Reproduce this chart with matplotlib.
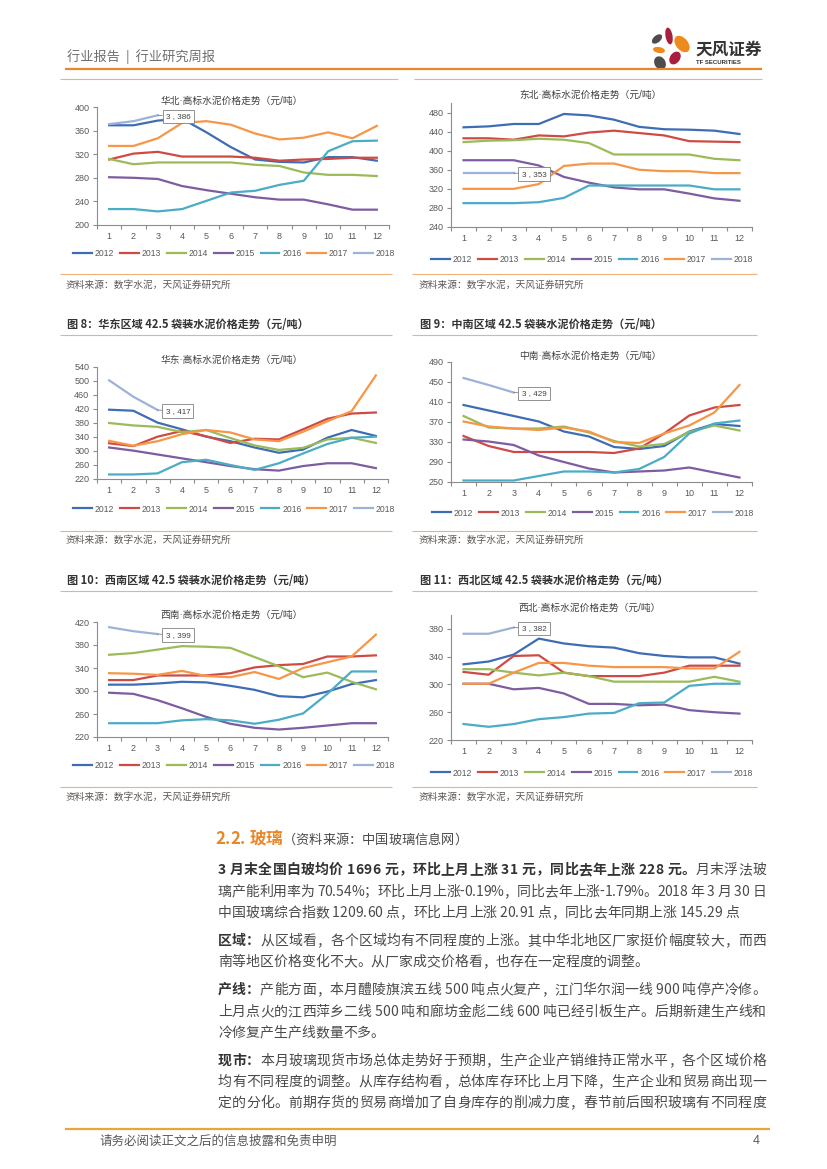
import numpy as np
import matplotlib
matplotlib.use('Agg')
import matplotlib.pyplot as plt
from matplotlib.patches import Ellipse
from matplotlib.font_manager import FontProperties, findfont, get_font

W, H = 827, 1169
CJK = 'Noto Sans CJK SC'
plt.rcParams['font.family'] = ['Liberation Sans', CJK]

months = list(range(1, 13))
years = ['2012', '2013', '2014', '2015', '2016', '2017', '2018']
colors = ['#3E6DB5', '#CE4B45', '#9BBB59', '#7E5CA0', '#4BACC6', '#F79646', '#9DB2D8']

# 高标水泥价格（元/吨），每个区域按年份 2012..2018
huabei = [
    [369, 369, 377, 380, 357, 332, 311, 307, 306, 315, 315, 309],
    [311, 321, 324, 316, 316, 316, 314, 309, 311, 312, 314, 314],
    [312, 303, 306, 306, 306, 306, 302, 300, 289, 285, 285, 283],
    [281, 280, 278, 266, 259, 253, 247, 243, 243, 235, 226, 226],
    [227, 227, 223, 227, 241, 255, 258, 268, 275, 325, 342, 343],
    [334, 334, 347, 373, 376, 370, 355, 345, 348, 357, 347, 368],
    [371, 376, 386],
]
dongbei = [
    [449, 451, 456, 456, 477, 474, 465, 450, 445, 444, 442, 435],
    [426, 426, 423, 432, 430, 438, 442, 437, 432, 420, 419, 418],
    [418, 421, 422, 425, 423, 416, 392, 392, 392, 392, 383, 380],
    [380, 380, 380, 369, 345, 333, 323, 319, 319, 310, 300, 295],
    [290, 290, 290, 292, 301, 327, 327, 327, 327, 327, 319, 319],
    [320, 320, 320, 330, 368, 373, 373, 360, 357, 357, 353, 353],
    [353, 353, 353],
]
huadong = [
    [418, 415, 381, 362, 341, 328, 310, 295, 304, 338, 360, 343],
    [322, 314, 341, 357, 342, 323, 335, 333, 362, 392, 407, 410],
    [380, 373, 369, 354, 360, 337, 316, 303, 309, 333, 338, 323],
    [310, 301, 290, 279, 268, 257, 248, 244, 257, 265, 265, 251],
    [233, 233, 236, 268, 275, 260, 246, 265, 293, 320, 338, 341],
    [329, 315, 328, 348, 360, 353, 333, 328, 355, 385, 414, 516],
    [502, 455, 417],
]
zhongnan = [
    [404, 393, 382, 371, 351, 341, 320, 316, 322, 351, 366, 362],
    [342, 322, 310, 310, 310, 310, 308, 317, 347, 383, 399, 404],
    [382, 359, 357, 357, 361, 349, 332, 321, 326, 350, 363, 353],
    [335, 331, 324, 303, 290, 277, 269, 271, 273, 279, 269, 259],
    [253, 253, 253, 262, 271, 271, 269, 276, 300, 347, 367, 373],
    [371, 361, 357, 354, 359, 351, 330, 328, 347, 363, 389, 444],
    [458, 444, 429],
]
xinan = [
    [311, 311, 313, 316, 315, 309, 302, 291, 289, 299, 312, 319],
    [319, 319, 327, 327, 327, 331, 341, 345, 347, 360, 360, 362],
    [363, 366, 372, 378, 377, 375, 359, 343, 324, 332, 316, 303],
    [297, 295, 284, 270, 255, 243, 236, 233, 236, 240, 244, 244],
    [244, 244, 244, 249, 251, 249, 243, 250, 261, 295, 334, 334],
    [331, 330, 328, 335, 326, 324, 333, 321, 340, 350, 360, 398],
    [411, 404, 399],
]
xibei = [
    [329, 333, 343, 366, 359, 355, 353, 345, 341, 339, 339, 330],
    [318, 314, 341, 342, 317, 312, 312, 312, 317, 327, 327, 327],
    [322, 322, 317, 313, 317, 312, 304, 304, 304, 304, 311, 304],
    [301, 301, 293, 295, 287, 272, 272, 270, 271, 263, 260, 258],
    [243, 239, 243, 250, 253, 258, 259, 273, 274, 298, 301, 301],
    [301, 301, 317, 331, 331, 327, 325, 325, 325, 323, 323, 347],
    [373, 373, 382],
]

ORANGE = '#E8872A'
LIGHT = '#F0B07A'
GREY = '#595959'

fig = plt.figure(figsize=(W / 100, H / 100), dpi=100)
bg = fig.add_axes([0, 0, 1, 1])
bg.set_xlim(0, W)
bg.set_ylim(H, 0)
bg.axis('off')


def hline(x0, x1, y, color=LIGHT, lw=0.8):
    bg.plot([x0, x1], [y, y], color=color, lw=lw, solid_capstyle='butt')


def chart(box, data, ylim, title, ttl, leg):
    l, t, r, b = box
    ax = fig.add_axes([l / W, 1 - b / H, (r - l) / W, (b - t) / H])
    ax.patch.set_alpha(0)
    for vals, yr, c in zip(data, years, colors):
        ax.plot(months[:len(vals)], vals, color=c, lw=1.6, label=yr)
    v = data[-1][2]
    ax.annotate(f'3 , {v}', xy=(3, v), xytext=(8, -1), textcoords='offset pixels',
                ha='left', va='center', fontsize=5.8, color='#404040',
                bbox=dict(boxstyle='square,pad=0.4', fc='white', ec='#808080', lw=0.6),
                arrowprops=dict(arrowstyle='-', color='#808080', lw=0.6, shrinkA=0, shrinkB=0))
    ax.set_xlim(0.5, 12.5)
    ax.set_ylim(ylim)
    ax.set_yticks(np.arange(ylim[0], ylim[1] + 1, 40))
    ax.set_xticks(months)
    ax.set_xticks(np.arange(0.5, 13), minor=True)
    for s in ['top', 'right']:
        ax.spines[s].set_visible(False)
    for s in ['left', 'bottom']:
        ax.spines[s].set_color('#8C8C8C')
        ax.spines[s].set_linewidth(0.8)
    ax.tick_params(axis='x', which='major', length=0, pad=5)
    ax.tick_params(axis='x', which='minor', length=3, width=0.8, color='#8C8C8C')
    ax.tick_params(axis='y', length=3, width=0.8, color='#8C8C8C', pad=2.5)
    ax.tick_params(labelsize=6.5, labelcolor=GREY)
    bg.text(ttl[0], ttl[1], title, ha='center', va='center', fontsize=7, color='#404040')
    lg = ax.legend(loc='center', bbox_to_anchor=(leg[0] / W, 1 - leg[1] / H),
                   bbox_transform=fig.transFigure, ncol=7, frameon=False, fontsize=6.2,
                   handlelength=2.2, handletextpad=0.3, columnspacing=0.7,
                   borderpad=0, borderaxespad=0)
    for tx in lg.get_texts():
        tx.set_color(GREY)
    return ax


# 页眉
bg.text(67, 57, '行业报告  |  行业研究周报', fontsize=9.5, color='#707070', va='center',
        family=[CJK])
hline(65, 762, 69, ORANGE, 1.6)
hline(60, 398, 79)
hline(414, 762, 79)
for (x, y, w, h, a, c) in [(657, 39, 12, 7, -40, '#4D4D4D'), (669, 36, 7, 17, -10, '#A8203F'),
                           (682, 44, 12, 19, -40, '#EE8A1B'), (659, 50, 12, 6, 10, '#EE8A1B'),
                           (675, 58, 10, 14, 35, '#A8203F'), (660, 63, 11, 14, -30, '#4D4D4D')]:
    bg.add_patch(Ellipse((x, y), w, h, angle=a, color=c, lw=0))
bg.text(695, 50, '天风证券', fontsize=12, color='#333333', va='center', family=[CJK],
        weight='bold')
bg.text(696, 63, 'TF SECURITIES', fontsize=4.3, color='#333333', va='center', weight='bold')

# 图表
chart((97, 107, 389, 225), huabei, (200, 400), '华北·高标水泥价格走势（元/吨）', (232, 101), (234, 254))
chart((451, 103, 752, 227), dongbei, (240, 500), '东北·高标水泥价格走势（元/吨）', (590, 95), (592, 260))
chart((97, 367, 388, 479), huadong, (220, 540), '华东·高标水泥价格走势（元/吨）', (232, 360), (234, 509))
chart((451, 362, 752, 482), zhongnan, (250, 490), '中南·高标水泥价格走势（元/吨）', (590, 356), (593, 513))
chart((97, 622, 388, 737), xinan, (220, 420), '西南·高标水泥价格走势（元/吨）', (232, 615), (234, 766))
chart((451, 615, 752, 740), xibei, (220, 400), '西北·高标水泥价格走势（元/吨）', (590, 608), (592, 773))

fig_titles = [(67, 324, '图 8：华东区域 42.5 袋装水泥价格走势（元/吨）'),
              (420, 324, '图 9：中南区域 42.5 袋装水泥价格走势（元/吨）'),
              (67, 580, '图 10：西南区域 42.5 袋装水泥价格走势（元/吨）'),
              (420, 580, '图 11：西北区域 42.5 袋装水泥价格走势（元/吨）')]
for x, y, s in fig_titles:
    bg.text(x, y, s, fontsize=8, weight='bold', color='#333333', va='center', family=[CJK])
for y in (335, 591):
    hline(60, 392, y)
    hline(412, 757, y)
for y_line, y_src in ((274, 285), (531, 540), (787, 797)):
    hline(60, 392, y_line)
    hline(412, 757, y_line)
    for x in (66, 419):
        bg.text(x, y_src, '资料来源：数字水泥，天风证券研究所', fontsize=7, color=GREY,
                va='center', family=[CJK])

# 正文
R = dict(weight='normal', size=10, color='#4A4A4A')
B = dict(weight='bold', size=10, color='#333333')
HD = dict(weight='bold', size=12, color=ORANGE)
HR = dict(weight='normal', size=9.5, color='#4A4A4A')


def text_line(x0, y, parts, right=None):
    glyphs = []
    for s, st in parts:
        fp = FontProperties(family=CJK, weight=st['weight'], size=st['size'])
        font = get_font(findfont(fp))
        font.set_size(st['size'], 100)
        for ch in s:
            adv = font.load_char(ord(ch)).linearHoriAdvance / 65536
            glyphs.append((ch, fp, adv, st['color']))
    gap = 0
    if right is not None:
        gap = (right - x0 - sum(g[2] for g in glyphs)) / (len(glyphs) - 1)
    x = x0
    for ch, fp, adv, c in glyphs:
        if ch != ' ':
            bg.text(x, y, ch, fontproperties=fp, color=c, va='baseline', ha='left')
        x += adv + gap


text_line(215, 844, [('2.2. 玻璃', HD), ('（资料来源：中国玻璃信息网）', HR)])
body = [
    (874, [('3 月末全国白玻均价 1696 元，环比上月上涨 31 元，同比去年上涨 228 元。', B), ('月末浮法玻', R)], True),
    (896, [('璃产能利用率为 70.54%；环比上月上涨-0.19%，同比去年上涨-1.79%。2018 年 3 月 30 日', R)], True),
    (917, [('中国玻璃综合指数 1209.60 点，环比上月上涨 20.91 点，同比去年同期上涨 145.29 点', R)], False),
    (945, [('区域：', B), ('从区域看，各个区域均有不同程度的上涨。其中华北地区厂家挺价幅度较大，而西', R)], True),
    (966, [('南等地区价格变化不大。从厂家成交价格看，也存在一定程度的调整。', R)], False),
    (994, [('产线：', B), ('产能方面，本月醴陵旗滨五线 500 吨点火复产，江门华尔润一线 900 吨停产冷修。', R)], True),
    (1016, [('上月点火的江西萍乡二线 500 吨和廊坊金彪二线 600 吨已经引板生产。后期新建生产线和', R)], True),
    (1037, [('冷修复产生产线数量不多。', R)], False),
    (1065, [('现市：', B), ('本月玻璃现货市场总体走势好于预期，生产企业产销维持正常水平，各个区域价格', R)], True),
    (1086, [('均有不同程度的调整。从库存结构看，总体库存环比上月下降，生产企业和贸易商出现一', R)], True),
    (1107, [('定的分化。前期存货的贸易商增加了自身库存的削减力度，春节前后囤积玻璃有不同程度', R)], True),
]
for y, parts, just in body:
    text_line(218, y, parts, 766 if just else None)

# 页脚
hline(65, 770, 1129, '#EBA43A', 1.6)
bg.text(100, 1141, '请务必阅读正文之后的信息披露和免责申明', fontsize=9, color=GREY,
        va='center', family=[CJK])
bg.text(760, 1141, '4', fontsize=9, color=GREY, va='center', ha='right')

fig.savefig('out.png', dpi=100)
